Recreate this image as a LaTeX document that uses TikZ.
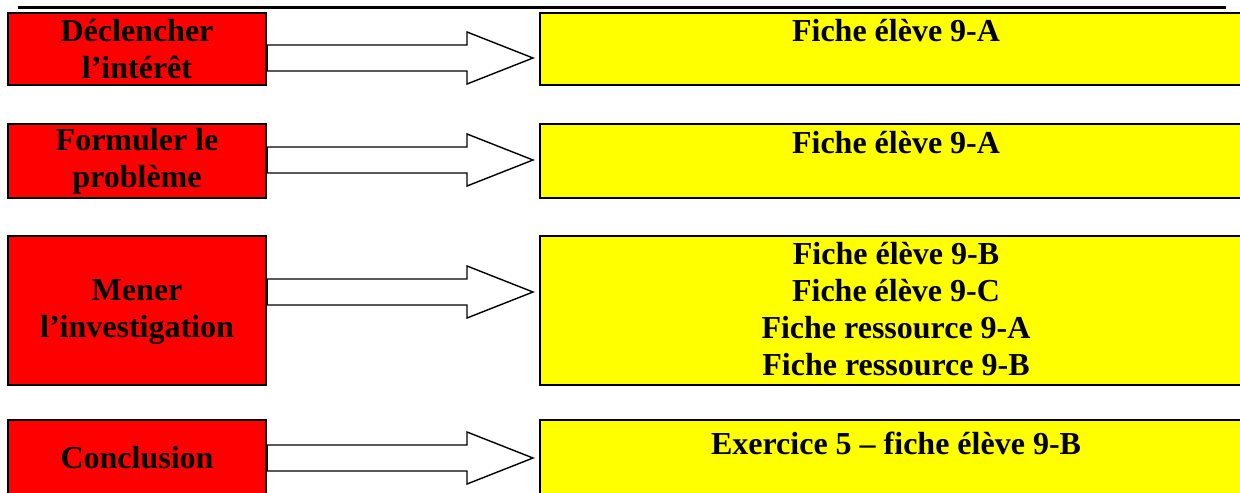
\documentclass[tikz,border=0pt]{standalone}
\usepackage{fontspec}
\setmainfont{Liberation Serif}
\usetikzlibrary{calc}
\definecolor{boxred}{RGB}{255,0,0}
\definecolor{boxyellow}{RGB}{255,255,0}
\tikzset{
  redbox/.style={draw=black, line width=1.2pt, fill=boxred, minimum width=129pt, align=center, inner sep=0pt,
     font=\fontsize{16pt}{18.5pt}\selectfont\bfseries},
  yelbox/.style={draw=black, line width=1.2pt, fill=boxyellow, minimum width=356pt, inner sep=0pt},
  yeltext/.style={align=center, inner sep=0pt, font=\fontsize{16pt}{18.5pt}\selectfont\bfseries},
  arr/.style={draw=black, line width=0.7pt, fill=white, line join=miter}
}
\newcommand{\bigarrow}[2]{%
  \draw[arr] ($(#1.east |- #2)+(0,-13)$) -- ($(#2)+(-66,-13)$) -- ($(#2)+(-66,-26)$) -- (#2)
    -- ($(#2)+(-66,26)$) -- ($(#2)+(-66,13)$) -- ($(#1.east |- #2)+(0,13)$) -- cycle;}
\begin{document}
\begin{tikzpicture}[x=0.5pt, y=-0.5pt]
\useasboundingbox (0,0) rectangle (1240,492);
\draw[line width=1.5pt] (18,8) coordinate (ul1) -- (1226,8) coordinate (ul2);
% red boxes
\node[redbox, minimum height=36pt] (r1) at (137,49) {Déclencher\\l’intérêt};
\node[redbox, minimum height=37pt] (r2) at (137,161) {Formuler le\\problème};
\node[redbox, minimum height=74.5pt] (r3) at (137,310.5) {\\[-6pt]Mener\\l’investigation};
\node[redbox, minimum height=38pt] (r4) at (137,458) {Conclusion};
% yellow boxes
\node[yelbox, minimum height=36pt] (y1) at (896,49) {};
\node[yelbox, minimum height=37pt] (y2) at (896,161) {};
\node[yelbox, minimum height=74.5pt] (y3) at (896,310.5) {};
\node[yelbox, minimum height=38pt] (y4) at (896,458) {};
\node[yeltext] (t1) at (896,31) {Fiche élève 9-A};
\node[yeltext] (t2) at (896,143) {Fiche élève 9-A};
\node[yeltext, anchor=north] (t3) at (896,242) {Fiche élève 9-B\\Fiche élève 9-C\\Fiche ressource 9-A\\Fiche ressource 9-B};
\node[yeltext] (t4) at (896,443) {Exercice 5 – fiche élève 9-B};
% arrows
\coordinate (a1) at (533,58);
\coordinate (a2) at (533,160);
\coordinate (a3) at (533,292);
\coordinate (a4) at (533,458);
\bigarrow{r1}{a1}
\bigarrow{r2}{a2}
\bigarrow{r3}{a3}
\bigarrow{r4}{a4}
\end{tikzpicture}
\end{document}
